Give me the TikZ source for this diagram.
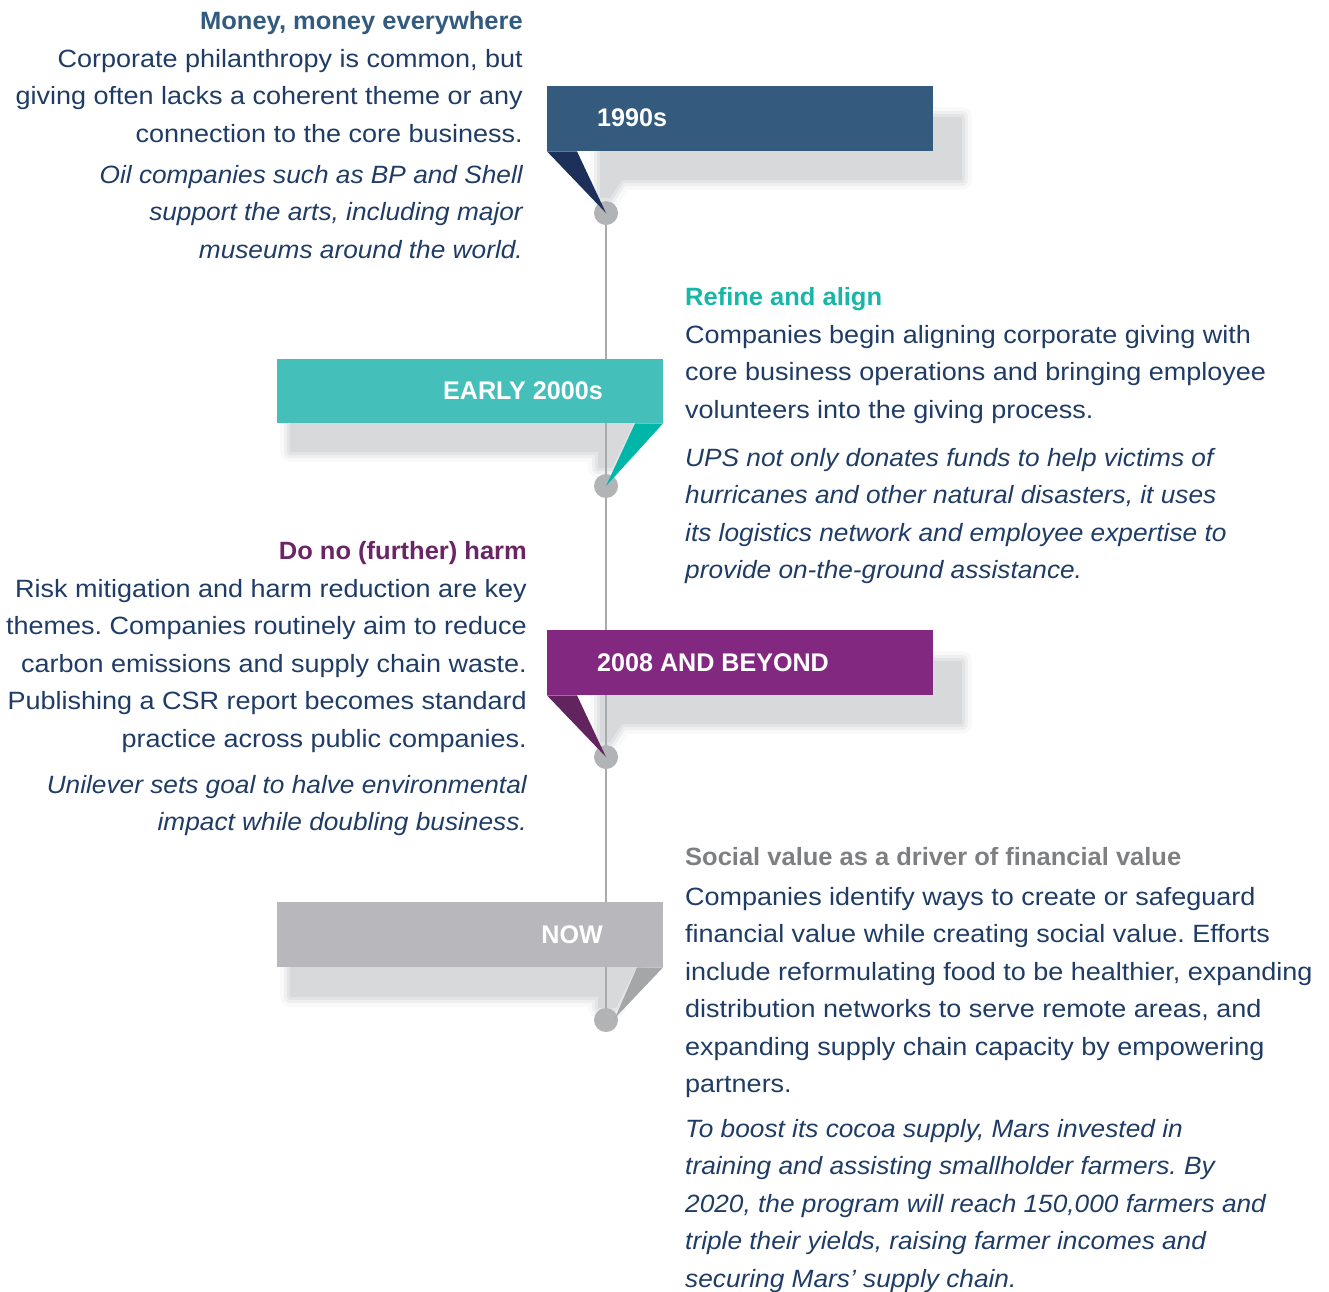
\documentclass[tikz,border=0pt]{standalone}
\usepackage{fontspec}
\setmainfont{Liberation Sans}
\frenchspacing
\newfontfamily\bodyfam[FakeStretch=1.08]{Liberation Sans}
\newfontfamily\itfam[FakeStretch=1.05]{Liberation Sans}
\newfontfamily\headfam[FakeStretch=1.02]{Liberation Sans}
\newfontfamily\banfam[FakeStretch=0.985]{Liberation Sans}
\newcommand\myBody{\frenchspacing\bodyfam\fontsize{25}{37.5}\selectfont}
\newcommand\myItal{\frenchspacing\itfam\itshape\fontsize{25}{37.5}\selectfont}
\newcommand\myHead{\headfam\bfseries\fontsize{25}{37.5}\selectfont}
\newcommand\myBan{\banfam\bfseries\fontsize{25.5}{30}\selectfont}
\definecolor{bodyc}{HTML}{1F3C66}
\definecolor{hA}{HTML}{335A7F}
\definecolor{hB}{HTML}{17B6A7}
\definecolor{hC}{HTML}{6B2466}
\definecolor{hD}{HTML}{7E7F81}
\definecolor{banA}{HTML}{345A7E}
\definecolor{triA}{HTML}{1C3059}
\definecolor{banB}{HTML}{44BFB9}
\definecolor{triB}{HTML}{00B6A8}
\definecolor{banC}{HTML}{832880}
\definecolor{triC}{HTML}{62245F}
\definecolor{banD}{HTML}{B8B7BB}
\definecolor{triD}{HTML}{A5A6A8}
\definecolor{dotc}{HTML}{B2B3B5}
\definecolor{linec}{HTML}{A9AAAC}
\definecolor{shc}{HTML}{D8D9DB}
\newcommand\softshadow[1]{%
  \draw[shc,line width=20pt,opacity=0.15,line join=round] #1;
  \draw[shc,line width=12pt,opacity=0.3,line join=round] #1;
  \draw[shc,line width=6pt,opacity=0.5,line join=round] #1;
  \fill[shc] #1;}
\tikzset{
  banner/.style={rectangle,inner sep=0pt,minimum width=386pt,minimum height=65pt,draw=none},
  dotnode/.style={circle,fill=dotc,inner sep=0pt,minimum size=24pt},
  bantxt/.style={inner sep=0pt,text=white,font=\myBan},
  bodytxt/.style={inner sep=0pt,text=bodyc,font=\myBody},
  italtxt/.style={inner sep=0pt,text=bodyc,font=\myItal},
  headtxt/.style={inner sep=0pt,font=\myHead},
}
\begin{document}
\begin{tikzpicture}[x=1pt,y=-1pt]
\useasboundingbox (0,0) rectangle (1329,1291);
\clip (0,0) rectangle (1329,1291);

% shadows
\softshadow{(600,117) -- (962,117) -- (962,180) -- (622,180) -- (610,198) -- (600,198) -- cycle}
\softshadow{(290,395) -- (648,395) -- (612,468) -- (598,468) -- (598,452) -- (290,452) -- cycle}
\softshadow{(600,661) -- (962,661) -- (962,724) -- (622,724) -- (610,742) -- (600,742) -- cycle}
\softshadow{(290,940) -- (650,940) -- (616,1008) -- (598,1008) -- (598,997) -- (290,997) -- cycle}

% dots
\node[dotnode] (d1) at (606,213) {};
\node[dotnode] (d2) at (606,486) {};
\node[dotnode] (d3) at (606,757) {};
\node[dotnode] (d4) at (606,1020) {};

% timeline
\draw[linec,line width=1.6pt] (d1.south) -- (d2.north);
\draw[linec,line width=1.6pt] (d2.south) -- (d3.north);
\draw[linec,line width=1.6pt] (d3.south) -- (d4.north);

% banners
\node[banner,fill=banA,anchor=north west] (ban1) at (547,86) {};
\node[banner,fill=banB,anchor=north east,minimum height=64pt] (ban2) at (663,359) {};
\node[banner,fill=banC,anchor=north west] (ban3) at (547,630) {};
\node[banner,fill=banD,anchor=north east] (ban4) at (663,902) {};

% folds
\coordinate (tipD) at (615,1018);
\fill[triA] (ban1.south west) -- ++(30,0) -- (d1.center) -- cycle;
\fill[triB] (ban2.south east) -- ++(-28,0) -- (d2.center) -- cycle;
\fill[triC] (ban3.south west) -- ++(30,0) -- (d3.center) -- cycle;
\fill[triD] (ban4.south east) -- ++(-26,0) -- (tipD) -- cycle;

% banner labels
\node[bantxt,anchor=base west] (t1) at (597,126) {1990s};
\node[bantxt,anchor=base east] (t2) at (603,399) {EARLY 2000s};
\node[bantxt,anchor=base west] (t3) at (597,671) {2008 AND BEYOND};
\node[bantxt,anchor=base east] (t4) at (603,943) {NOW};

% block 1 (anchors at the baseline of the last line)
\node[headtxt,text=hA,anchor=base east] (h1) at (523,29) {Money, money everywhere};
\node[bodytxt,align=right,anchor=base east] (b1) at (523,142)
  {Corporate philanthropy is common, but\\giving often lacks a coherent theme or any\\connection to the core business.};
\node[italtxt,align=right,anchor=base east] (i1) at (523,258)
  {Oil companies such as BP and Shell\\support the arts, including major\\museums around the world.};

% block 2
\node[headtxt,text=hB,anchor=base west] (h2) at (685,305) {Refine and align};
\node[bodytxt,align=left,anchor=base west] (b2) at (685,418)
  {Companies begin aligning corporate giving with\\core business operations and bringing employee\\volunteers into the giving process.};
\node[italtxt,align=left,anchor=base west] (i2) at (685,578.5)
  {UPS not only donates funds to help victims of\\hurricanes and other natural disasters, it uses\\its logistics network and employee expertise to\\provide on-the-ground assistance.};

% block 3
\node[headtxt,text=hC,anchor=base east] (h3) at (527,559) {Do no (further) harm};
\node[bodytxt,align=right,anchor=base east] (b3) at (527,747)
  {Risk mitigation and harm reduction are key\\themes. Companies routinely aim to reduce\\carbon emissions and supply chain waste.\\Publishing a CSR report becomes standard\\practice across public companies.};
\node[italtxt,align=right,anchor=base east] (i3) at (527,830.5)
  {Unilever sets goal to halve environmental\\impact while doubling business.};

% block 4
\node[headtxt,text=hD,anchor=base west] (h4) at (685,865) {Social value as a driver of financial value};
\node[bodytxt,align=left,anchor=base west] (b4) at (685,1092.5)
  {Companies identify ways to create or safeguard\\financial value while creating social value. Efforts\\include reformulating food to be healthier, expanding\\distribution networks to serve remote areas, and\\expanding supply chain capacity by empowering\\partners.};
\node[italtxt,align=left,anchor=base west] (i4) at (685,1287)
  {To boost its cocoa supply, Mars invested in\\training and assisting smallholder farmers. By\\2020, the program will reach 150,000 farmers and\\triple their yields, raising farmer incomes and\\securing Mars’ supply chain.};
\end{tikzpicture}
\end{document}
